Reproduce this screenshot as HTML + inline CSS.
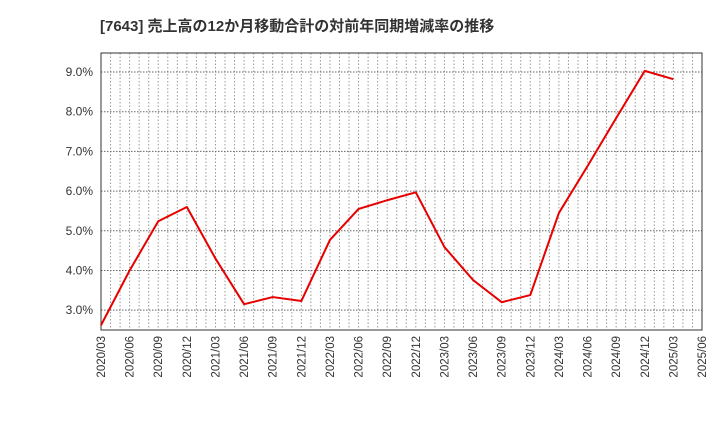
<!DOCTYPE html>
<html><head><meta charset="utf-8"><style>body{margin:0;background:#fff}svg{display:block}text{font-family:"Liberation Sans","Noto Sans CJK JP",sans-serif}</style></head><body>
<svg id="c" width="720" height="440">
<text x="100" y="31" font-size="15" font-weight="bold" fill="#333">[7643]  売上高の12か月移動合計の対前年同期増減率の推移</text>
</svg>
<script>
const categories=["2020/03","2020/06","2020/09","2020/12","2021/03","2021/06","2021/09","2021/12","2022/03","2022/06","2022/09","2022/12","2023/03","2023/06","2023/09","2023/12","2024/03","2024/06","2024/09","2024/12","2025/03","2025/06"];
const values=[2.62,4.0,5.24,5.6,4.3,3.15,3.33,3.23,4.77,5.55,5.77,5.97,4.59,3.76,3.2,3.38,5.45,6.63,7.84,9.03,8.82];
const yTicks=[3,4,5,6,7,8,9];
const L=101,R=702,T=53,B=330,yMin=2.5,yMax=9.48;
const NS="http://www.w3.org/2000/svg",svg=document.getElementById('c');
const xs=i=>L+(R-L)*i/(categories.length-1);
const ys=v=>B-(v-yMin)/(yMax-yMin)*(B-T);
function mk(t,a,p){const e=document.createElementNS(NS,t);for(const k in a)e.setAttribute(k,a[k]);(p||svg).appendChild(e);return e;}
const g=mk('g',{});


for(let m=1;m<(categories.length-1)*3;m++){const x=L+(R-L)*m/((categories.length-1)*3);const l=mk('line',{x1:x,x2:x,y1:T,y2:B,stroke:'#999','stroke-dasharray':'1.5,2','stroke-width':1},g);}
yTicks.forEach(v=>{const y=ys(v);const l=mk('line',{x1:L,x2:R,y1:y,y2:y,stroke:'#666','stroke-dasharray':'1.5,1.5','stroke-width':1},g);
const t=mk('text',{x:L-8,y:y+4,'text-anchor':'end','font-size':12,fill:'#333'});t.textContent=v.toFixed(1)+'%';});
categories.forEach((c,i)=>{const x=xs(i);const t=mk('text',{transform:`translate(${x+4},${B+6}) rotate(-90)`,'text-anchor':'end','font-size':11.5,fill:'#333'});t.textContent=c;});
const f=mk('rect',{x:L,y:T,width:R-L,height:B-T,fill:'none',stroke:'#333','stroke-width':1});


const p=mk('polyline',{points:values.map((v,i)=>xs(i)+','+ys(v)).join(' '),fill:'none',stroke:'#e60000','stroke-width':2,'stroke-linejoin':'round'});


</script>
</body></html>
